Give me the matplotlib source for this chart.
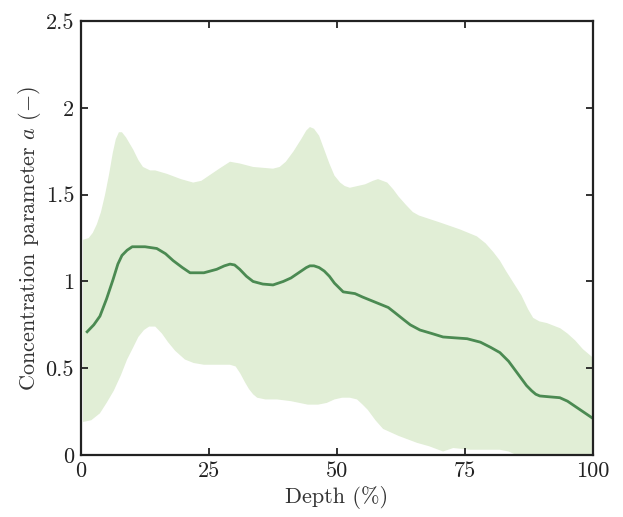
import numpy as np
import matplotlib
matplotlib.use('Agg')
import matplotlib.pyplot as plt

plt.rcParams['font.family'] = 'serif'
plt.rcParams['font.serif'] = ['cmr10']
plt.rcParams['mathtext.fontset'] = 'cm'
plt.rcParams['axes.unicode_minus'] = False
plt.rcParams['axes.formatter.use_mathtext'] = True

# upper / lower band
upperX = [0.4, 1.5, 2.3, 3.1, 3.9, 4.7, 5.5, 6.2, 6.8, 7.4, 8.0, 8.8, 10.2, 11.2, 12.1, 13.5, 14.5,
          16.8, 19.5, 21.9, 23.5, 25.0, 27.0, 29.1, 31.0, 33.6, 37.5, 38.8, 40.0, 41.5, 43.0,
          44.0, 44.7, 45.5, 46.5, 47.5, 48.5, 49.5, 50.6, 51.5, 52.5, 55.5, 57.0, 58.0, 59.8,
          61.0, 62.0, 63.5, 64.8, 66.0, 70.1, 74.0, 77.3, 79.0, 80.5, 81.8, 83.0, 84.5, 86.0,
          87.3, 88.3, 89.5, 91.0, 93.6, 95.0, 96.5, 98.0, 100.0]
upperY = [1.24, 1.25, 1.28, 1.33, 1.40, 1.50, 1.62, 1.74, 1.82, 1.86, 1.86, 1.83, 1.76, 1.70, 1.66, 1.64, 1.64,
          1.62, 1.59, 1.57, 1.58, 1.61, 1.65, 1.69, 1.68, 1.66, 1.65, 1.66, 1.69, 1.75, 1.82,
          1.87, 1.89, 1.88, 1.84, 1.76, 1.68, 1.61, 1.57, 1.55, 1.54, 1.56, 1.58, 1.59, 1.57,
          1.53, 1.49, 1.44, 1.40, 1.38, 1.34, 1.30, 1.26, 1.22, 1.17, 1.12, 1.06, 0.99, 0.92,
          0.84, 0.79, 0.77, 0.76, 0.73, 0.70, 0.66, 0.61, 0.56]
lowerX = [0.4, 2.0, 3.7, 5.0, 6.4, 7.8, 9.0, 10.2, 11.2, 12.3, 13.3, 14.5, 15.8, 17.0, 18.4, 20.3,
          22.0, 24.0, 27.0, 29.1, 30.2, 31.1, 32.0, 32.8, 33.6, 34.4, 36.0, 38.3, 41.0, 44.3,
          46.3, 48.0, 49.5, 51.0, 52.5, 53.9, 55.0, 56.0, 57.5, 59.0, 60.5, 62.0, 65.6, 68.0,
          70.7, 71.7, 72.7, 76.0, 79.0, 81.8, 83.5, 85.0, 100.0]
lowerY = [0.19, 0.20, 0.24, 0.30, 0.37, 0.46, 0.55, 0.62, 0.68, 0.72, 0.74, 0.74, 0.70, 0.65, 0.60, 0.55,
          0.53, 0.52, 0.52, 0.52, 0.51, 0.47, 0.42, 0.38, 0.35, 0.33, 0.32, 0.32, 0.31, 0.29,
          0.29, 0.30, 0.32, 0.33, 0.33, 0.32, 0.29, 0.26, 0.20, 0.15, 0.13, 0.11, 0.07, 0.05,
          0.02, 0.03, 0.04, 0.03, 0.03, 0.03, 0.02, 0.0, 0.0]

# mean curve
meanX = [1.2, 2.5, 3.7, 5.0, 6.25, 7.2, 8.0, 9.0, 10.0, 12.5, 14.8, 16.5, 18.0, 19.8, 21.3, 24.0,
         26.5, 28.0, 29.1, 30.0, 31.0, 32.3, 33.6, 35.5, 37.5, 39.5, 41.0, 43.0, 44.0, 44.7, 45.5,
         46.5, 47.5, 48.5, 49.5, 51.2, 53.5, 55.0, 57.5, 60.0, 61.3, 63.0, 64.3, 66.2, 68.5,
         70.7, 73.0, 75.4, 78.0, 80.0, 81.8, 83.5, 85.0, 86.0, 87.0, 88.0, 88.8, 89.6, 91.5,
         93.5, 95.0, 96.5, 98.0, 100.0]
meanY = [0.71, 0.75, 0.80, 0.90, 1.01, 1.10, 1.15, 1.18, 1.20, 1.20, 1.19, 1.16, 1.12, 1.08, 1.05, 1.05,
         1.07, 1.09, 1.10, 1.095, 1.07, 1.03, 1.00, 0.985, 0.98, 1.00, 1.02, 1.06, 1.08, 1.09, 1.09,
         1.08, 1.06, 1.03, 0.99, 0.94, 0.93, 0.91, 0.88, 0.85, 0.82, 0.78, 0.75, 0.72, 0.70,
         0.68, 0.675, 0.67, 0.65, 0.62, 0.59, 0.54, 0.48, 0.44, 0.40, 0.37, 0.35, 0.34, 0.335,
         0.33, 0.31, 0.28, 0.25, 0.21]

xTicks = [0, 25, 50, 75, 100]
yTicks = [0, 0.5, 1, 1.5, 2, 2.5]
yTickLabels = ['0', '0.5', '1', '1.5', '2', '2.5']

fig = plt.figure(figsize=(6.23, 5.17), dpi=100)
ax = fig.add_axes([0.130, 0.120, 0.822, 0.839])

ax.fill(upperX + lowerX[::-1], upperY + lowerY[::-1], color='#e1eed6', linewidth=0)
ax.plot(meanX, meanY, color='#4b8a52', linewidth=2, solid_joinstyle='round')

ax.set_xlim(0, 100)
ax.set_ylim(0, 2.5)
ax.set_xticks(xTicks)
ax.set_xticklabels([str(t) for t in xTicks])
ax.set_yticks(yTicks)
ax.set_yticklabels(yTickLabels)
ax.tick_params(direction='in', top=True, right=True, length=5, width=1.3, labelsize=16,
               colors='#222222', pad=5)
for sp in ax.spines.values():
    sp.set_linewidth(1.6)
    sp.set_color('#222222')

ax.set_xlabel('Depth (%)', fontsize=16, color='#333333', labelpad=3)
ax.set_ylabel('Concentration parameter $a$ $(-)$', fontsize=16, color='#333333', labelpad=2)

fig.savefig('out.png', dpi=100)
